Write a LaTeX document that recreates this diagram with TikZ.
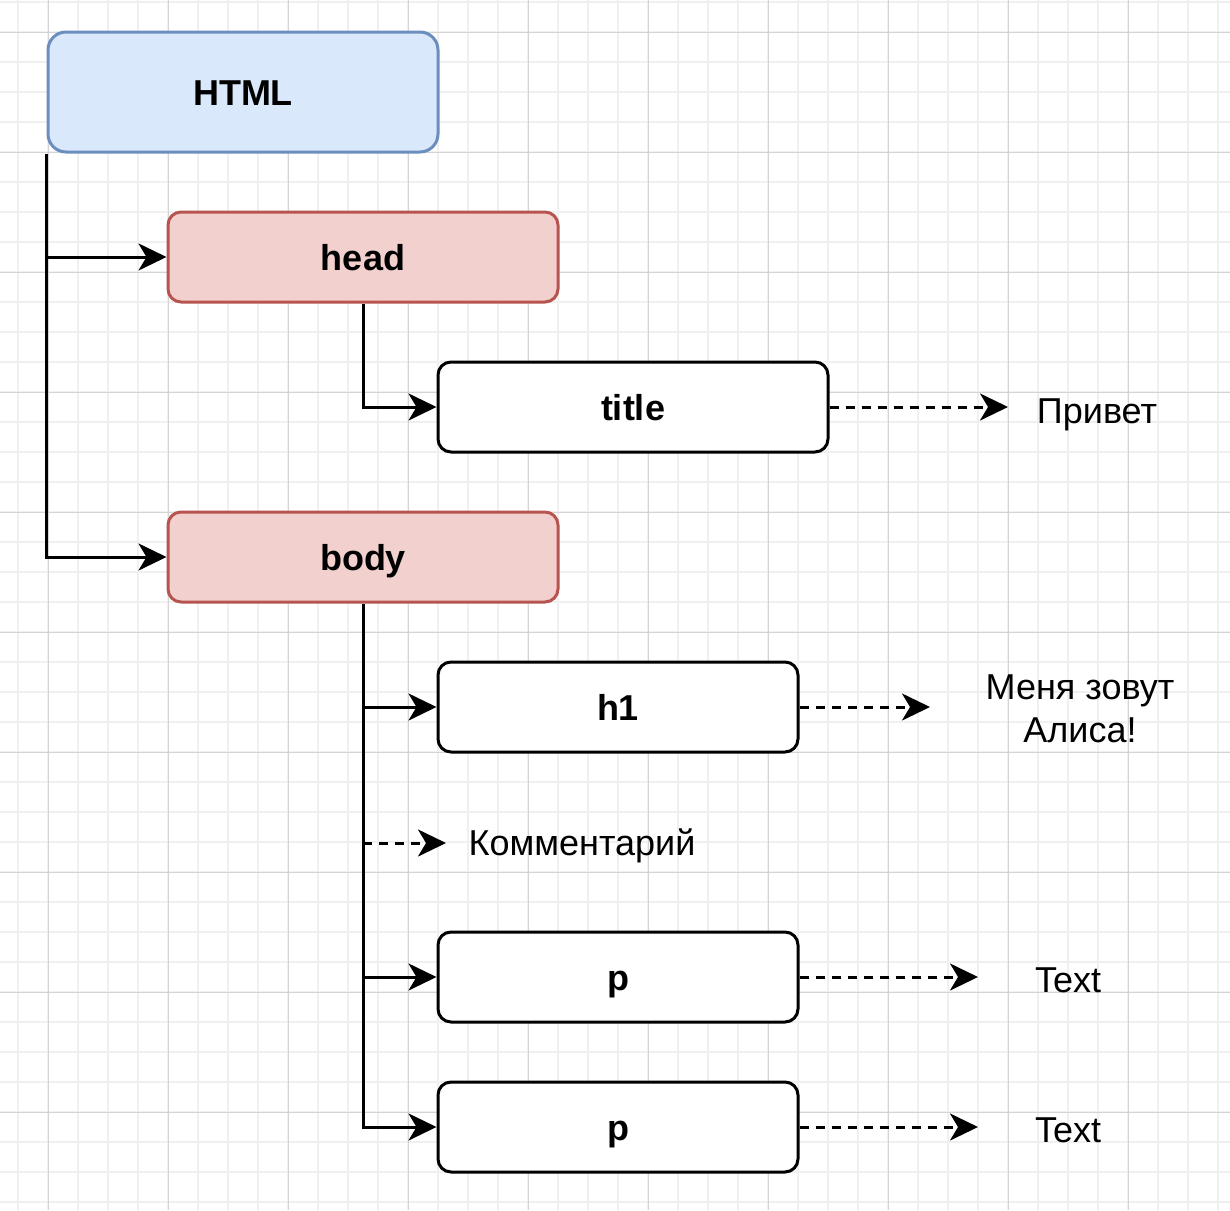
\documentclass[tikz,border=0pt]{standalone}
\usepackage{fontspec}
\setmainfont{Liberation Sans}
\usetikzlibrary{arrows.meta}
\definecolor{blueFill}{HTML}{DAE8FC}
\definecolor{blueLine}{HTML}{6C8EBF}
\definecolor{redFill}{HTML}{F2D0CE}
\definecolor{redLine}{HTML}{B85450}
\definecolor{gridMinor}{HTML}{F0F0F0}
\definecolor{gridMajor}{HTML}{D4D4D4}
\tikzset{
  box/.style={draw, line width=3pt, rounded corners=13pt, inner sep=0pt,
    text height=26pt, text depth=0pt, font=\fontsize{36}{42}\selectfont\bfseries,
    minimum width=390pt, minimum height=90pt},
  bluebox/.style={box, fill=blueFill, draw=blueLine, rounded corners=18pt, minimum height=120pt},
  redbox/.style={box, fill=redFill, draw=redLine},
  whitebox/.style={box, fill=white, draw=black},
  lbl/.style={font=\fontsize{36}{43}\selectfont, inner sep=0pt, anchor=base, align=center},
  conn/.style={line width=3pt, -{Stealth[length=28pt, width=27pt, inset=8pt]}},
  dconn/.style={conn, dash pattern=on 9pt off 7pt}
}
\begin{document}
\begin{tikzpicture}[x=1pt, y=-1pt]
\useasboundingbox (0,0) rectangle (1230,1210);
\fill[white] (0,0) rectangle (1230,1210);
% grid
\foreach \x in {18,48,...,1230} \draw[gridMinor, line width=1.2pt] (\x,0) -- (\x,1210);
\foreach \y in {2,32,...,1210} \draw[gridMinor, line width=1.2pt] (0,\y) -- (1230,\y);
\foreach \x in {48,168,...,1230} \draw[gridMajor, line width=1pt] (\x,0) -- (\x,1210);
\foreach \y in {32,152,...,1210} \draw[gridMajor, line width=1pt] (0,\y) -- (1230,\y);

% boxes
\node[bluebox] (html) at (243,92) {HTML};
\node[redbox] (head) at (363,257) {head};
\node[whitebox] (title) at (633,407) {title};
\node[redbox] (body) at (363,557) {body};
\node[whitebox, minimum width=360pt] (h1) at (618,707) {h1};
\node[whitebox, minimum width=360pt] (p1) at (618,977) {p};
\node[whitebox, minimum width=360pt] (p2) at (618,1127) {p};

% text labels
\node[lbl] (privet) at (1097,423) {Привет};
\node[lbl] (alice) at (1080,742) {Меня зовут\\Алиса!};
\node[lbl] (comment) at (582,855) {Комментарий};
\node[lbl] (text1) at (1068,992) {Text};
\node[lbl] (text2) at (1068,1142) {Text};

% free ends of dashed connectors
\coordinate (privetIn) at (1008,407);
\coordinate (aliceIn) at (930,707);
\coordinate (commentOut) at (363,843);
\coordinate (commentIn) at (446,843);
\coordinate (text1In) at (978,977);
\coordinate (text2In) at (978,1127);

% tree connectors
\draw[conn] (html.south west) |- (body.west);
\draw[conn] (html.south west |- head.west) -- (head.west);
\draw[conn] (head.south) |- (title.west);
\draw[conn] (body.south) |- (p2.west);
\draw[conn] (body.south |- h1.west) -- (h1.west);
\draw[conn] (body.south |- p1.west) -- (p1.west);

% dashed connectors
\draw[dconn] (title.east) -- (privetIn);
\draw[dconn] (h1.east) -- (aliceIn);
\draw[dconn] (commentOut) -- (commentIn);
\draw[dconn] (p1.east) -- (text1In);
\draw[dconn] (p2.east) -- (text2In);
\end{tikzpicture}
\end{document}
